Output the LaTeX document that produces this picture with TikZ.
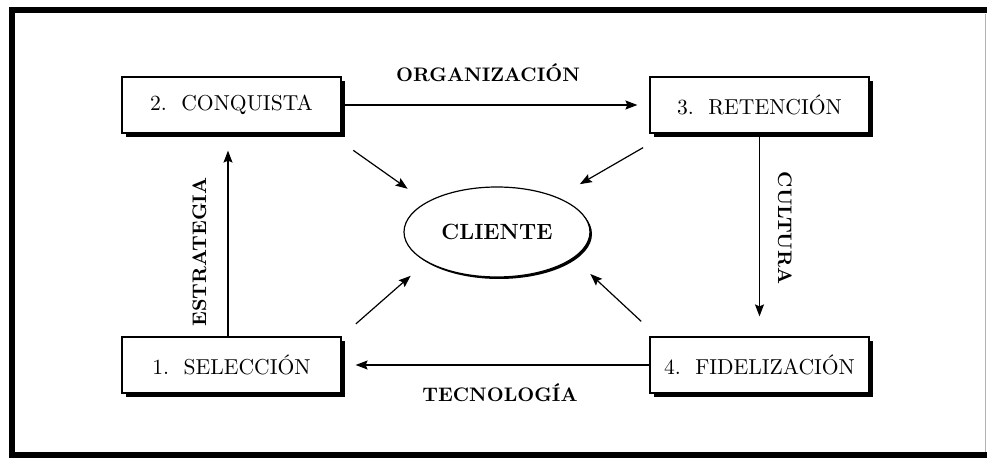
\documentclass[tikz,border=0pt]{standalone}
\usepackage{fontspec}
\usepackage{tikz}
\usetikzlibrary{positioning}
\usetikzlibrary{shapes.geometric}
\usetikzlibrary{arrows.meta}
\usetikzlibrary{shadows}
\tikzset{etapa/.style={draw, line width=0.6pt, fill=white, minimum width=109.5pt, minimum height=28pt, inner sep=0pt, font=\fontsize{10.8}{12}\selectfont, drop shadow={shadow xshift=1.8pt, shadow yshift=-1.8pt, opacity=1, fill=black}}}
\tikzset{eje/.style={font=\bfseries\fontsize{9.8}{12}\selectfont, inner sep=0pt}}
\tikzset{flecha/.style={-{Stealth[length=6pt,width=4.5pt,inset=1pt]}, line width=0.6pt}}

\begin{document}
\begin{tikzpicture}[x=0.5pt,y=-0.5pt]
\useasboundingbox (0,0) rectangle (987,458);
% marco
\draw[line width=3pt] (990,10.5) -- (12,10.5) -- (12,455.5) -- (990,455.5);
\draw[gray!60, line width=0.4pt] (985.5,14) -- (985.5,452);
% etapas
\node[etapa] (conq) at (231.5,105) {2.\ \ CONQUISTA};
\node[etapa] (ret) at (759.5,105) {3.\ \ RETENCIÓN};
\node[etapa] (sel) at (231.5,365) {1.\ \ SELECCIÓN};
\node[etapa] (fid) at (759.5,365) {4.\ \ FIDELIZACIÓN};
\node[ellipse, draw, line width=0.6pt, fill=white, minimum width=93pt, minimum height=45pt, inner sep=0pt, font=\bfseries\fontsize{11}{13}\selectfont, drop shadow={shadow xshift=1pt, shadow yshift=-1pt, opacity=1, fill=black}] (cli) at (497,232) {CLIENTE};
% ciclo
\draw[flecha, shorten >=6pt] (conq.east) -- (ret.west);
\draw[flecha, shorten >=10pt] (ret.south) -- (fid.north);
\draw[flecha, shorten >=7pt] (fid.west) -- (sel.east);
\draw[flecha, shorten >=8.5pt] ([xshift=-1.75pt]sel.north) -- ([xshift=-1.75pt]conq.south);
\node[eje, anchor=base] (organizacion) at (488,82) {ORGANIZACIÓN};
\node[eje, anchor=base] (tecnologia) at (500,402) {TECNOLOGÍA};
\node[eje, anchor=base, rotate=90] (estrategia) at (206,252) {ESTRATEGIA};
\node[eje, anchor=base, rotate=-90] (cultura) at (778,228) {CULTURA};
% hacia el cliente
\draw[flecha, shorten <=14.5pt, shorten >=11.5pt] ([xshift=-6pt]conq.south east) -- (cli.157);
\draw[flecha, shorten <=14pt, shorten >=13pt] ([xshift=9pt]ret.south west) -- (cli.30);
\draw[flecha, shorten <=9.5pt, shorten >=10.5pt] (sel.north east) -- (cli.203);
\draw[flecha, shorten <=11pt, shorten >=11.5pt] ([xshift=4pt]fid.north west) -- (cli.-19);
\end{tikzpicture}
\end{document}
